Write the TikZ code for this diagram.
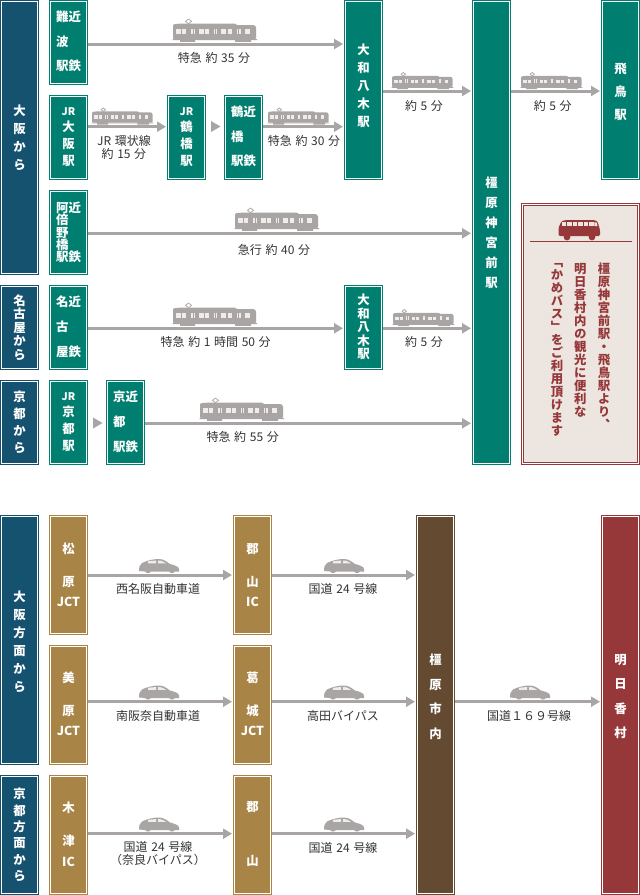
\documentclass[tikz,border=0pt]{standalone}
\usepackage{fontspec}
\setmainfont{Noto Sans CJK JP}
\newfontfamily\vfont[RawFeature=+vert]{Noto Sans CJK JP}
\usetikzlibrary{arrows.meta}
\lineskiplimit=-100pt \normallineskiplimit=-100pt
\definecolor{cteal}{HTML}{007F70}
\definecolor{cblue}{HTML}{14526F}
\definecolor{cgold}{HTML}{A88446}
\definecolor{cbrown}{HTML}{644A31}
\definecolor{cred}{HTML}{963839}
\definecolor{cgray}{HTML}{A9A5A4}
\definecolor{clight}{HTML}{F0ECEA}
\definecolor{cbeige}{HTML}{ECE5E0}
\definecolor{ctext}{HTML}{333333}
\newcommand{\wfont}[1]{\fontsize{12.4}{#1}\selectfont\bfseries}
\newcommand{\lfont}{\fontsize{12}{13}\selectfont\spaceskip=3.6pt\relax}
\newcommand{\jr}{{\fontsize{10.5}{10}\selectfont JR}}
\tikzset{
  x=1pt,y=-1pt,
  stn/.style={draw=#1,line width=1pt,fill=white,inner sep=0pt,outer sep=0pt,
    path picture={\fill[#1] ([shift={(1.5pt,1.5pt)}]path picture bounding box.south west) rectangle ([shift={(-1.5pt,-1.5pt)}]path picture bounding box.north east);}},
  boxtext/.style={text=white,inner sep=0pt,align=#1},
  boxtext/.default=center,
  lab/.style={text=ctext,font=\lfont,inner sep=0pt,align=center},
  arr/.style={draw=cgray,line width=3pt,-{Triangle[length=9pt,width=10pt]},shorten >=1.5pt},
  vcol/.style={text=cred,inner sep=0pt,anchor=north,align=center,font=\fontsize{12.4}{13}\selectfont\bfseries\vfont},
  trainpic/.pic={
    \fill[cgray,rounded corners=1pt] (0,-4) -- (0,-18.6) -- (6,-19.3) -- (63,-19.3) -- (63,-18) -- (81,-18) -- (83,-16.5) -- (83,-4) -- cycle;
    \fill[cgray] (7,-5) rectangle (22,-1.2) (62,-5) rectangle (78,-1.2) (-0.5,-4) rectangle (84,-3);
    \draw[cgray,line width=.7pt] (15.5,-24) -- (18.5,-21.7) -- (15.5,-19.3) -- (12.5,-21.7) -- cycle;
    \foreach \a/\b in {3.3/8.3,9/13.3,25.7/30.7,31.7/36,48.3/53.3,55/59.3,72.3/77.3}
      {\fill[clight] (\a,-14) rectangle (\b,-9.4);}
    \foreach \a in {18.3,20.6,40.7,43,64,66.3}
      {\fill[clight] ({\a},-14.5) rectangle ({\a+1.2},-9);}
  },
  carpic/.pic={
    \fill[cgray] (0,-3) .. controls (-.5,-6) and (.5,-9) .. (3,-11) .. controls (8,-13.5) and (14,-15) .. (20,-15) .. controls (25,-15) and (28,-12) .. (31,-10) .. controls (35,-9) and (40,-7.5) .. (40,-5) -- (40,-2.5) -- (36,-2.5) .. controls (35,-.5) and (31,-.5) .. (30,-2.5) -- (12,-2.5) .. controls (11,-.5) and (7,-.5) .. (6,-2.5) -- cycle;
    \fill[clight] (9,-12.7) -- (17,-13.5) -- (17,-10.7) -- (9,-10.7) -- cycle (19,-13.5) .. controls (23,-13.5) and (25,-12) .. (27,-10.7) -- (19,-10.7) -- cycle;
  }
}
\newcommand{\bx}[8]{%
  \node[stn=#6,minimum width={#4-#2},minimum height={#5-#3}] (#1) at ({(#2+#4)/2},{(#3+#5)/2}) {};
  \node[boxtext=#7,font=\wfont{#8}] (#1-t) at ({(#2+#4)/2},\ty) {\tx};
}
\begin{document}
\begin{tikzpicture}
\useasboundingbox (0,0) rectangle (640,895);
\fill[white] (0,0) rectangle (640,895);
% rail section: origin boxes
\def\ty{138}\def\tx{大\\阪\\か\\ら}\bx{osaka}{.5}{.5}{38.5}{274.5}{cblue}{center}{18}
\def\ty{327.5}\def\tx{名\\古\\屋\\か\\ら}\bx{nagoya}{.5}{285.5}{38.5}{369.5}{cblue}{center}{13.6}
\def\ty{422.5}\def\tx{京\\都\\か\\ら}\bx{kyoto}{.5}{380.5}{38.5}{464.5}{cblue}{center}{17}
\def\ty{41.5}\def\tx{難近\\波\\駅鉄}\bx{namba}{49.5}{.5}{87.5}{84}{cteal}{left}{24.8}
\def\ty{137}\def\tx{\jr\\大\\阪\\駅}\bx{jrosaka}{49.5}{95.5}{87.5}{179.5}{cteal}{center}{16.7}
\def\ty{232.5}\def\tx{阿近\\倍\\野\\橋\\駅鉄}\bx{abeno}{49.5}{190.5}{87.5}{274.5}{cteal}{left}{12.3}
\def\ty{327}\def\tx{名近\\古\\屋鉄}\bx{nagoyak}{49.5}{285.5}{87.5}{369.5}{cteal}{left}{24.8}
\def\ty{422}\def\tx{\jr\\京\\都\\駅}\bx{jrkyoto}{49.5}{380.5}{87.5}{464.5}{cteal}{center}{16.7}
\def\ty{137}\def\tx{\jr\\鶴\\橋\\駅}\bx{jrtsuru}{167.5}{95.5}{205.5}{179.5}{cteal}{center}{16.7}
\def\ty{136.5}\def\tx{鶴近\\橋\\駅鉄}\bx{tsuruk}{224.5}{95.5}{262.5}{179.5}{cteal}{left}{24.8}
\def\ty{422}\def\tx{京近\\都\\駅鉄}\bx{kyotok}{106.5}{380.5}{144.5}{464.5}{cteal}{left}{24.8}
\def\ty{86}\def\tx{大\\和\\八\\木\\駅}\bx{yagi}{344.5}{.5}{382.5}{179.5}{cteal}{center}{18}
\def\ty{327}\def\tx{大\\和\\八\\木\\駅}\bx{yagib}{344.5}{285.5}{382.5}{369.5}{cteal}{center}{13.4}
\def\ty{232.5}\def\tx{橿\\原\\神\\宮\\前\\駅}\bx{kashi}{472.5}{.5}{510.5}{464.5}{cteal}{center}{20}
\def\ty{92}\def\tx{飛\\鳥\\駅}\bx{asuka}{601.5}{.5}{639.5}{179.5}{cteal}{center}{23}
% rail arrows
\draw[arr] (namba.east |- 0,44) -- (yagi.west |- 0,44);
\draw[arr] (jrosaka.east |- 0,126.7) -- (jrtsuru.west |- 0,126.7);
\draw[arr] (tsuruk.east |- 0,126.7) -- (yagi.west |- 0,126.7);
\draw[arr] (abeno.east |- 0,233.3) -- (kashi.west |- 0,233.3);
\draw[arr] (nagoyak.east |- 0,328.3) -- (yagib.west |- 0,328.3);
\draw[arr] (kyotok.east |- 0,423.3) -- (kashi.west |- 0,423.3);
\draw[arr] (yagi.east |- 0,91) -- (kashi.west |- 0,91);
\draw[arr] (kashi.east |- 0,91) -- (asuka.west |- 0,91);
\draw[arr] (yagib.east |- 0,328.3) -- (kashi.west |- 0,328.3);
\fill[cgray] (211,121) -- (220.5,126.5) -- (211,132) -- cycle;
\fill[cgray] (93,417.5) -- (102.5,423) -- (93,428.5) -- cycle;
% trains
\pic at (173,43) {trainpic};
\pic[scale=.73] at (92,125.5) {trainpic};
\pic[scale=.73] at (268,125.5) {trainpic};
\pic[scale=.73] at (392,90) {trainpic};
\pic[scale=.73] at (521,90) {trainpic};
\pic at (235,232) {trainpic};
\pic at (173,327) {trainpic};
\pic[scale=.73] at (393,327) {trainpic};
\pic at (200,422) {trainpic};
% rail labels
\node[lab] (l1) at (214,57.7) {特急 約 35 分};
\node[lab] (l2) at (124,147.5) {JR 環状線\\約 15 分};
\node[lab] (l3) at (304,140.7) {特急 約 30 分};
\node[lab] (l4) at (424,106) {約 5 分};
\node[lab] (l5) at (552.7,106) {約 5 分};
\node[lab] (l6) at (274,249.7) {急行 約 40 分};
\node[lab] (l7) at (215.7,341.7) {特急 約 1 時間 50 分};
\node[lab] (l8) at (424,342) {約 5 分};
\node[lab] (l9) at (242.7,437.3) {特急 約 55 分};
% bus panel
\node[draw=cred,line width=1pt,fill=white,inner sep=0pt,minimum width=118,minimum height=261.5] (panel) at (580.5,333.75) {};
\node[draw=cred,line width=1.2pt,fill=cbeige,inner sep=0pt,minimum width=113.5,minimum height=257] (paneli) at (panel.center) {};
\fill[cred,rounded corners=1.5pt] (558.5,236) -- (558.5,228) -- (561,222) .. controls (563,220.5) and (566,220) .. (570,220) -- (590,220) .. controls (595,220) and (597,221) .. (598,223) -- (600,230) -- (600,236) -- cycle;
\fill[cred] (567,237) circle (3.4) (592,237) circle (3.4);
\foreach \a in {561.5,567,572.5,578,583.5,589}{\fill[cbeige] (\a,222.3) rectangle (\a+4.5,226);}
\fill[cbeige] (594.3,222.3) -- (596.5,222.3) -- (597.5,226) -- (594.3,226) -- cycle;
\draw[cred,line width=1pt] (paneli.west |- 0,241.3) ++(7,0) -- ++(102,0);
\node[vcol] (c1) at (604,263) {橿\\原\\神\\宮\\前\\駅\\・\\飛\\鳥\\駅\\よ\\り\\、};
\node[vcol] (c2) at (580.3,263) {明\\日\\香\\村\\内\\の\\観\\光\\に\\便\\利\\な};
\node[vcol] (c3) at (557,263) {「\\か\\め\\バ\\ス\\」\\を\\ご\\利\\用\\頂\\け\\ま\\す};
% road section
\def\ty{641.3}\def\tx{大\\阪\\方\\面\\か\\ら}\bx{osakah}{.5}{515.5}{38.5}{764.5}{cblue}{center}{18}
\def\ty{835}\def\tx{京\\都\\方\\面\\か\\ら}\bx{kyotoh}{.5}{775.5}{38.5}{894.5}{cblue}{center}{16.3}
\def\ty{575}\def\tx{松\\[13pt]原\\JCT}\bx{matsu}{49.5}{515.5}{87.5}{634.5}{cgold}{center}{20}
\def\ty{703.5}\def\tx{美\\[13pt]原\\JCT}\bx{mihara}{49.5}{645.5}{87.5}{764.5}{cgold}{center}{20}
\def\ty{834}\def\tx{木\\[13pt]津\\IC}\bx{kizu}{49.5}{775.5}{87.5}{894.5}{cgold}{center}{20.5}
\def\ty{575}\def\tx{郡\\[13pt]山\\IC}\bx{kori}{233.5}{515.5}{271.5}{634.5}{cgold}{center}{20}
\def\ty{703.5}\def\tx{葛\\[13pt]城\\JCT}\bx{katsu}{233.5}{645.5}{271.5}{764.5}{cgold}{center}{20}
\def\ty{833.7}\def\tx{郡\\[54pt]山}\bx{koryama}{233.5}{775.5}{271.5}{894.5}{cgold}{center}{0}
\def\ty{696.7}\def\tx{橿\\原\\市\\内}\bx{city}{416.5}{515.5}{454.5}{894.5}{cbrown}{center}{24.4}
\def\ty{696.7}\def\tx{明\\日\\香\\村}\bx{asuk}{601.5}{515.5}{639.5}{894.5}{cred}{center}{24.4}
% road arrows
\draw[arr] (matsu.east |- 0,575) -- (kori.west |- 0,575);
\draw[arr] (mihara.east |- 0,701.7) -- (katsu.west |- 0,701.7);
\draw[arr] (kizu.east |- 0,833.7) -- (koryama.west |- 0,833.7);
\draw[arr] (kori.east |- 0,575) -- (city.west |- 0,575);
\draw[arr] (katsu.east |- 0,701.7) -- (city.west |- 0,701.7);
\draw[arr] (koryama.east |- 0,833.7) -- (city.west |- 0,833.7);
\draw[arr] (city.east |- 0,701.7) -- (asuk.west |- 0,701.7);
% cars
\pic at (139,574) {carpic};
\pic at (139,700.5) {carpic};
\pic at (139,832.5) {carpic};
\pic at (324,574) {carpic};
\pic at (324,700.5) {carpic};
\pic at (324,832.5) {carpic};
\pic at (510,700.5) {carpic};
% road labels
\node[lab] (r1) at (158,589) {西名阪自動車道};
\node[lab] (r2) at (158,716) {南阪奈自動車道};
\node[lab] (r3) at (158,854) {国道 24 号線\\（奈良バイパス）};
\node[lab] (r4) at (343,589) {国道 24 号線};
\node[lab] (r5) at (343,716) {高田バイパス};
\node[lab] (r6) at (343,847.7) {国道 24 号線};
\node[lab] (r7) at (529,716) {国道１６９号線};
\end{tikzpicture}
\end{document}
